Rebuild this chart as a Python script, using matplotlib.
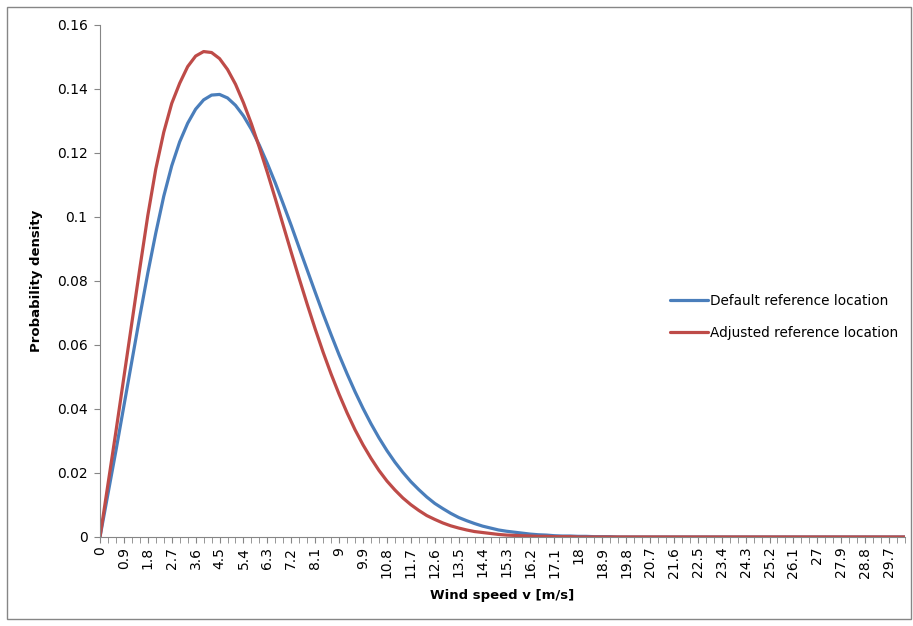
import numpy as np
import matplotlib
matplotlib.use('Agg')
import matplotlib.pyplot as plt
from matplotlib.patches import Rectangle

# wind speed categories, 0 .. 30.3 m/s in 0.3 steps
speeds = np.round(np.arange(102) * 0.3, 1)

default_loc = [0.0, 0.0135, 0.0270, 0.0410, 0.0550, 0.0690, 0.0825, 0.0950, 0.1065, 0.1160,
               0.1235, 0.1293, 0.1337, 0.1366, 0.1381, 0.1383, 0.1372, 0.1349, 0.1316, 0.1274,
               0.1224, 0.1167, 0.1106, 0.1040, 0.0973, 0.0903, 0.0834, 0.0765, 0.0697, 0.0632,
               0.0569, 0.0510, 0.0454, 0.0402, 0.0354, 0.0310, 0.0270, 0.0234, 0.0202, 0.0173,
               0.0148, 0.0125, 0.0105, 0.0089, 0.0074, 0.0061, 0.0051, 0.0042, 0.0034, 0.0028,
               0.0022, 0.0018, 0.0015, 0.0012, 0.0009, 0.0007, 0.0006, 0.0004, 0.0003, 0.0003,
               0.0002, 0.0002, 0.0001, 0.0001, 0.0001, 0.0, 0.0, 0.0, 0.0, 0.0,
               0.0, 0.0, 0.0, 0.0, 0.0, 0.0, 0.0, 0.0, 0.0, 0.0,
               0.0, 0.0, 0.0, 0.0, 0.0, 0.0, 0.0, 0.0, 0.0, 0.0,
               0.0, 0.0, 0.0, 0.0, 0.0, 0.0, 0.0, 0.0, 0.0, 0.0,
               0.0, 0.0]

adjusted_loc = [0.0, 0.0165, 0.0330, 0.0500, 0.0670, 0.0840, 0.1005, 0.1150, 0.1265, 0.1355,
                0.1418, 0.1470, 0.1503, 0.1517, 0.1514, 0.1495, 0.1461, 0.1415, 0.1357, 0.1291,
                0.1217, 0.1139, 0.1057, 0.0973, 0.0889, 0.0807, 0.0727, 0.0650, 0.0577, 0.0509,
                0.0446, 0.0388, 0.0335, 0.0288, 0.0246, 0.0208, 0.0175, 0.0147, 0.0122, 0.0101,
                0.0083, 0.0067, 0.0055, 0.0044, 0.0035, 0.0028, 0.0022, 0.0017, 0.0014, 0.0011,
                0.0008, 0.0006, 0.0005, 0.0004, 0.0003, 0.0002, 0.0002, 0.0001, 0.0001, 0.0001,
                0.0, 0.0, 0.0, 0.0, 0.0, 0.0, 0.0, 0.0, 0.0, 0.0,
                0.0, 0.0, 0.0, 0.0, 0.0, 0.0, 0.0, 0.0, 0.0, 0.0,
                0.0, 0.0, 0.0, 0.0, 0.0, 0.0, 0.0, 0.0, 0.0, 0.0,
                0.0, 0.0, 0.0, 0.0, 0.0, 0.0, 0.0, 0.0, 0.0, 0.0,
                0.0, 0.0]

series_names = ['Default reference location', 'Adjusted reference location']
y_ticks = [0, 0.02, 0.04, 0.06, 0.08, 0.1, 0.12, 0.14, 0.16]

plt.rcParams['font.family'] = 'DejaVu Sans'
grey = '#868686'

fig = plt.figure(figsize=(9.13, 6.26), dpi=100)
fig.patches.append(Rectangle((7 / 913, 7 / 626), 904 / 913, 612 / 626, transform=fig.transFigure,
                             fill=False, edgecolor=grey, linewidth=1))
ax = fig.add_axes([100 / 913, 1 - 537 / 626, 805 / 913, 512 / 626])

ax.plot(speeds, default_loc, color='#4A7EBB', lw=2.3, label=series_names[0],
        solid_capstyle='round', solid_joinstyle='round')
ax.plot(speeds, adjusted_loc, color='#BE4B48', lw=2.3, label=series_names[1],
        solid_capstyle='round', solid_joinstyle='round')

ax.set_xlim(0, speeds[-1])
ax.set_ylim(0, 0.16)
ax.set_yticks(y_ticks)
ax.set_yticklabels([f'{t:g}' for t in y_ticks])
ax.set_xticks(speeds[::3])
ax.set_xticklabels([f'{s:g}' for s in speeds[::3]], rotation=90)
ax.set_xticks(speeds, minor=True)

for side in ['top', 'right']:
    ax.spines[side].set_visible(False)
for side in ['left', 'bottom']:
    ax.spines[side].set_color(grey)
ax.tick_params(axis='y', which='major', length=4, color=grey, labelsize=10, pad=5)
ax.tick_params(axis='x', which='both', length=4, color=grey, labelsize=10, pad=3)

ax.set_xlabel('Wind speed v [m/s]', fontsize=9.5, fontweight='bold', labelpad=8)
ax.set_ylabel('Probability density', fontsize=9.5, fontweight='bold', labelpad=10)

ax.legend(loc='center left', bbox_to_anchor=(658 / 913, 1 - 317 / 626), bbox_transform=fig.transFigure,
          frameon=False, fontsize=9.8, handlelength=2.8, handletextpad=0.1, labelspacing=1.35)

fig.savefig('out.png', dpi=100)
